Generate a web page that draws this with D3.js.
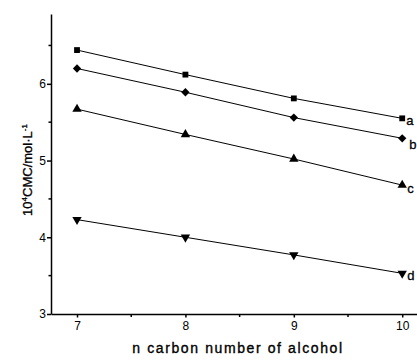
<!DOCTYPE html>
<html>
<head>
<meta charset="utf-8">
<script src="https://cdn.jsdelivr.net/npm/d3@7"></script>
<style>
  html, body { margin: 0; padding: 0; background: #fff; }
  svg { display: block; }
  text { font-family: "Liberation Sans", Arial, sans-serif; fill: #000; }
</style>
</head>
<body>
<svg id="chart" width="417" height="361"></svg>
<script>
// Carbon number of the alcohol
const carbonNumbers = [7, 8, 9, 10];
// 10^4 CMC (mol/L) for each series
const seriesA = [6.44, 6.12, 5.81, 5.55];
const seriesB = [6.20, 5.89, 5.56, 5.29];
const seriesC = [5.67, 5.34, 5.02, 4.68];
const seriesD = [4.23, 4.00, 3.77, 3.53];
const seriesNames = ["a", "b", "c", "d"];
const xTicks = [7, 8, 9, 10];
const yTicks = [3, 4, 5, 6];

const series = [
  { name: seriesNames[0], values: seriesA, symbol: d3.symbolSquare, size: 34, rot: 0, dx: 4, dy: 7 },
  { name: seriesNames[1], values: seriesB, symbol: d3.symbolDiamond2, size: 44, rot: 0, dx: 7, dy: 11 },
  { name: seriesNames[2], values: seriesC, symbol: d3.symbolTriangle, size: 38, rot: 0, dx: 5, dy: 8 },
  { name: seriesNames[3], values: seriesD, symbol: d3.symbolTriangle, size: 38, rot: 180, dx: 5, dy: 7 }
];

const svg = d3.select("#chart");
const plotLeft = 51, plotBottom = 314, plotTop = 14;

const x = d3.scaleLinear().domain([6.76, 10.3]).range([plotLeft, plotLeft + (10.3 - 6.76) * 108.4]);
const y = d3.scaleLinear().domain([3, 6.91]).range([plotBottom, plotTop]);

// Y axis
const yAxis = d3.axisLeft(y).tickValues(yTicks).tickFormat(d3.format("d")).tickSize(4).tickSizeOuter(0);
const gy = svg.append("g").attr("transform", `translate(${plotLeft},0)`).call(yAxis);
gy.select(".domain").attr("stroke", "#000").attr("stroke-width", 1.5);
gy.selectAll(".tick line").attr("stroke-width", 1.5);
gy.selectAll(".tick text").attr("font-size", 12).attr("x", -5);
// minor y ticks
svg.append("g").selectAll("line").data([3.5, 4.5, 5.5, 6.5]).join("line")
  .attr("x1", plotLeft - 2.5).attr("x2", plotLeft)
  .attr("y1", d => y(d)).attr("y2", d => y(d))
  .attr("stroke", "#000").attr("stroke-width", 1.5);

// X axis
const xAxis = d3.axisBottom(x).tickValues(xTicks).tickFormat(d3.format("d")).tickSize(3.5).tickSizeOuter(0);
const gx = svg.append("g").attr("transform", `translate(0,${plotBottom})`).call(xAxis);
gx.select(".domain").attr("stroke", "#000").attr("stroke-width", 1.5);
gx.selectAll(".tick line").attr("stroke-width", 1.5);
gx.selectAll(".tick text").attr("font-size", 12).attr("y", 7);
svg.append("g").selectAll("line").data([7.5, 8.5, 9.5]).join("line")
  .attr("x1", d => x(d)).attr("x2", d => x(d))
  .attr("y1", plotBottom).attr("y2", plotBottom + 3)
  .attr("stroke", "#000").attr("stroke-width", 1.5);

// Series lines and markers
const line = d3.line().x((d, i) => x(carbonNumbers[i])).y(d => y(d));
series.forEach(s => {
  svg.append("path").attr("d", line(s.values))
    .attr("fill", "none").attr("stroke", "#000").attr("stroke-width", 1);
  svg.append("g").selectAll("path").data(s.values).join("path")
    .attr("d", d3.symbol().type(s.symbol).size(s.size))
    .attr("transform", (d, i) => `translate(${x(carbonNumbers[i])},${y(d)}) rotate(${s.rot})`)
    .attr("fill", "#000");
  const last = s.values[s.values.length - 1];
  svg.append("text")
    .attr("x", x(carbonNumbers[carbonNumbers.length - 1]) + s.dx)
    .attr("y", y(last) + s.dy)
    .attr("font-size", 13).attr("stroke", "#000").attr("stroke-width", 0.3)
    .text(s.name);
});

// Axis titles
const yt = svg.append("text")
  .attr("transform", `translate(32,170) rotate(-90)`)
  .attr("text-anchor", "middle").attr("font-size", 13)
  .attr("stroke", "#000").attr("stroke-width", 0.3);
yt.append("tspan").text("10");
yt.append("tspan").attr("font-size", 8).attr("dy", -5).text("4");
yt.append("tspan").attr("dy", 5).text("CMC/mol·L");
yt.append("tspan").attr("font-size", 8).attr("dy", -5).text("-1");

svg.append("text")
  .attr("x", 238).attr("y", 353)
  .attr("text-anchor", "middle").attr("font-size", 14)
  .attr("letter-spacing", 1.6)
  .attr("stroke", "#000").attr("stroke-width", 0.35)
  .text("n carbon number of alcohol");
</script>
</body>
</html>
